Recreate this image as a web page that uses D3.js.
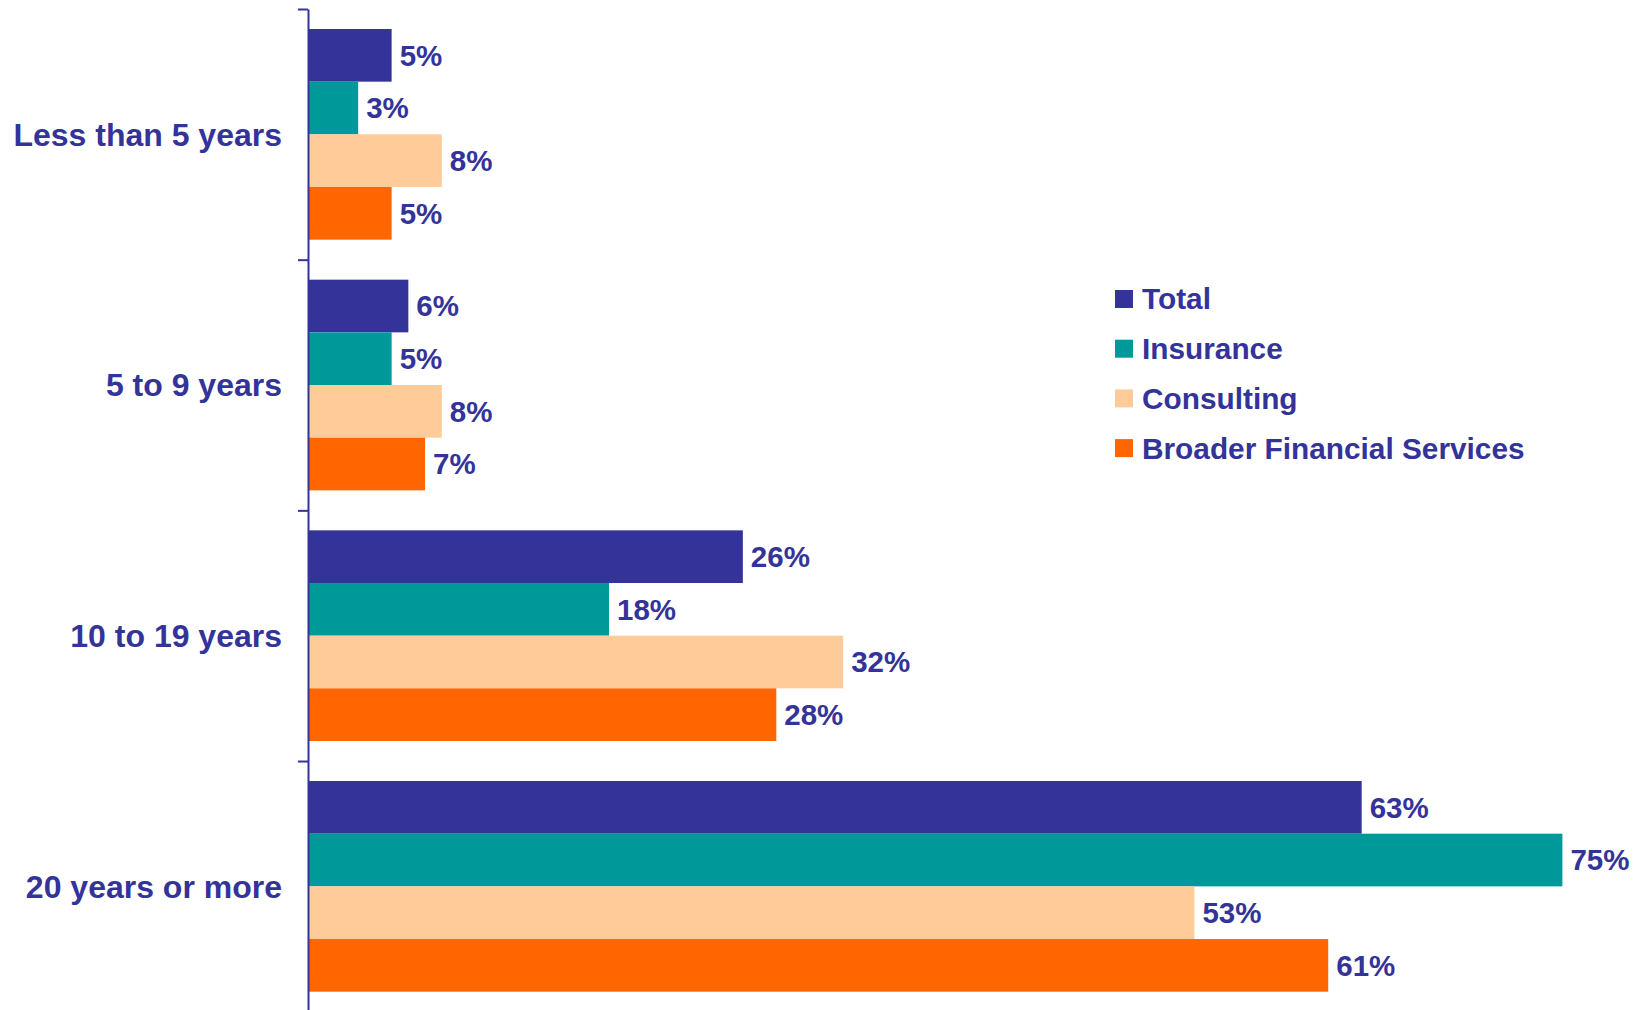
<!DOCTYPE html>
<html>
<head>
<meta charset="utf-8">
<script src="https://cdn.jsdelivr.net/npm/d3@7"></script>
<style>
  body { margin: 0; background: #fff; }
  text { font-family: 'Liberation Sans', Arial, sans-serif; font-weight: bold; fill: #333399; }
</style>
</head>
<body>
<script>
const categories = ['Less than 5 years', '5 to 9 years', '10 to 19 years', '20 years or more']
const seriesNames = ['Total', 'Insurance', 'Consulting', 'Broader Financial Services']
const colors = ['#333399', '#009999', '#ffcc99', '#ff6600']
const total = [5, 6, 26, 63]
const insurance = [3, 5, 18, 75]
const consulting = [8, 8, 32, 53]
const broader = [5, 7, 28, 61]
const series = [total, insurance, consulting, broader]

const width = 1640, height = 1010
const svg = d3.select('body').append('svg')
    .attr('width', width)
    .attr('height', height)

const axisX = 308
const y0 = d3.scaleBand().domain(categories).range([9, 1011.7])
const y1 = d3.scaleBand().domain(seriesNames).range([20, y0.bandwidth() - 20])
const x = d3.scaleLinear().domain([0, 80]).range([axisX, axisX + 1338])

// bars
const groups = svg.selectAll('g.cat')
  .data(categories)
  .enter().append('g')
    .attr('class', 'cat')
    .attr('transform', d => 'translate(0,' + y0(d) + ')')

groups.selectAll('rect')
  .data((c, i) => seriesNames.map((s, j) => ({ s: s, j: j, v: series[j][i] })))
  .enter().append('rect')
    .attr('x', x(0))
    .attr('y', d => y1(d.s))
    .attr('width', d => x(d.v) - x(0))
    .attr('height', y1.bandwidth())
    .attr('fill', d => colors[d.j])

groups.selectAll('text.val')
  .data((c, i) => seriesNames.map((s, j) => ({ s: s, j: j, v: series[j][i] })))
  .enter().append('text')
    .attr('class', 'val')
    .attr('x', d => x(d.v) + 8)
    .attr('y', d => y1(d.s) + y1.bandwidth() / 2)
    .attr('dy', '0.35em')
    .style('font-size', '29.5px')
    .text(d => d.v + '%')

// axis with ticks at band edges
const edge = d3.scaleLinear().domain([0, categories.length]).range(y0.range())
const yAxis = d3.axisLeft(edge).tickValues(d3.range(categories.length + 1)).tickFormat('').tickSize(10).tickSizeOuter(0)
svg.append('g')
    .attr('class', 'axis')
    .attr('transform', 'translate(' + axisX + ',0)')
    .call(yAxis)
svg.selectAll('.axis path, .axis line')
    .attr('stroke', '#333399')
    .attr('stroke-width', 2)

svg.selectAll('text.cat')
  .data(categories)
  .enter().append('text')
    .attr('class', 'cat')
    .attr('x', 282)
    .attr('y', d => y0(d) + y0.bandwidth() / 2)
    .attr('dy', '0.35em')
    .attr('text-anchor', 'end')
    .style('font-size', '32px')
    .text(d => d)

// legend
const legend = svg.append('g')
    .attr('transform', 'translate(1115,290)')
const item = legend.selectAll('g')
  .data(seriesNames)
  .enter().append('g')
    .attr('transform', (d, i) => 'translate(0,' + i * 49.7 + ')')
item.append('rect')
    .attr('width', 18)
    .attr('height', 18)
    .attr('fill', (d, i) => colors[i])
item.append('text')
    .attr('x', 27)
    .attr('y', 9)
    .attr('dy', '0.35em')
    .style('font-size', '29.8px')
    .text(d => d)
</script>
</body>
</html>
